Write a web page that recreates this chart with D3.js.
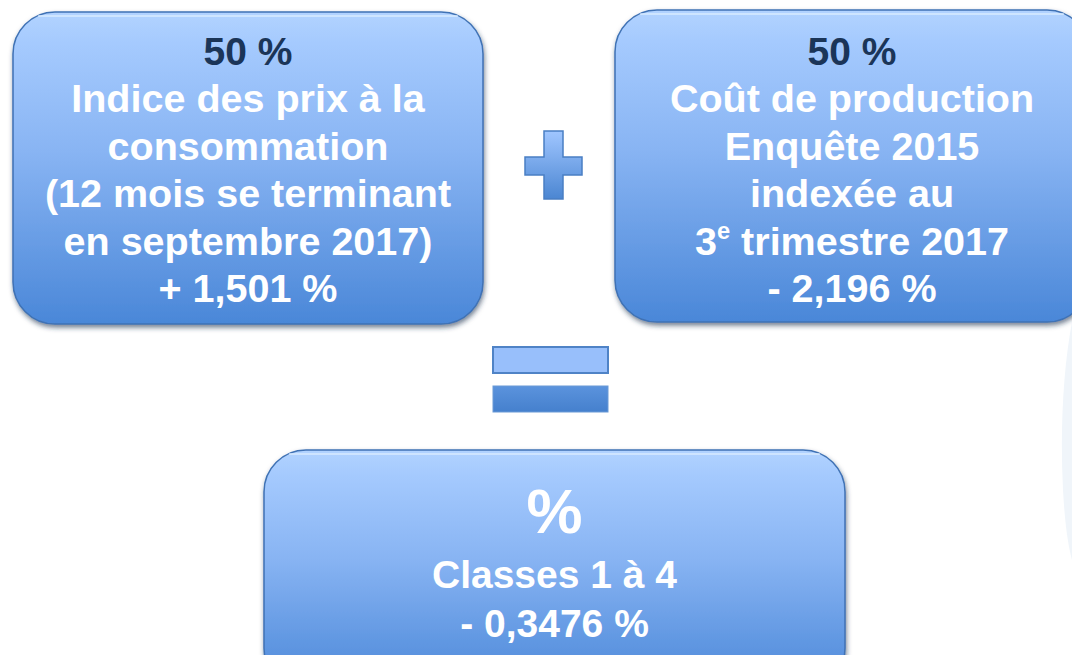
<!DOCTYPE html>
<html>
<head>
<meta charset="utf-8">
<script src="https://cdn.jsdelivr.net/npm/d3@7"></script>
<style>
  html, body { margin: 0; padding: 0; background: #fff; }
  svg { display: block; font-family: "Liberation Sans", Arial, sans-serif; font-weight: bold; }
</style>
</head>
<body>
<svg id="main" width="1072" height="655"></svg>
<script>
// texts of the three boxes
var leftHead = "50 %";
var leftLines = ["Indice des prix à la", "consommation", "(12 mois se terminant", "en septembre 2017)", "+ 1,501 %"];
var rightHead = "50 %";
var rightLines = ["Coût de production", "Enquête 2015", "indexée au", "3|e| trimestre 2017", "- 2,196 %"];
var resultHead = "%";
var resultLines = ["Classes 1 à 4", "- 0,3476 %"];

var svg = d3.select("svg#main");
var defs = svg.append("defs");

var grad = defs.append("linearGradient").attr("id", "boxGrad")
  .attr("x1", 0).attr("y1", 0).attr("x2", 0).attr("y2", 1);
grad.append("stop").attr("offset", "0%").attr("stop-color", "#b2d3ff");
grad.append("stop").attr("offset", "10%").attr("stop-color", "#a5cafe");
grad.append("stop").attr("offset", "45%").attr("stop-color", "#88b4f3");
grad.append("stop").attr("offset", "100%").attr("stop-color", "#4a87d8");

var symGrad = defs.append("linearGradient").attr("id", "symGrad")
  .attr("x1", 0).attr("y1", 0).attr("x2", 0).attr("y2", 1);
symGrad.append("stop").attr("offset", "0%").attr("stop-color", "#a0c6ff");
symGrad.append("stop").attr("offset", "100%").attr("stop-color", "#4b86d2");

var eqGrad = defs.append("linearGradient").attr("id", "eqGrad")
  .attr("x1", 0).attr("y1", 0).attr("x2", 0).attr("y2", 1);
eqGrad.append("stop").attr("offset", "0%").attr("stop-color", "#5b93dd");
eqGrad.append("stop").attr("offset", "100%").attr("stop-color", "#4580cd");

var shadow = defs.append("filter").attr("id", "shadow")
  .attr("x", "-10%").attr("y", "-10%").attr("width", "120%").attr("height", "125%");
shadow.append("feDropShadow").attr("dx", 1).attr("dy", 3).attr("stdDeviation", 2.5)
  .attr("flood-color", "#1d3550").attr("flood-opacity", 0.6);

// faint background shape on the right edge
svg.append("path")
  .attr("d", "M1072,322 C1063,370 1060,430 1063,490 C1065,525 1068,545 1072,560 Z")
  .attr("fill", "#f0f5fa");

function drawBox(x, y, w, h, r, head, lines, headSize, lineSize, step, headColor) {
  var g = svg.append("g");
  g.append("rect").attr("x", x).attr("y", y).attr("width", w).attr("height", h)
    .attr("rx", r).attr("ry", r)
    .attr("fill", "url(#boxGrad)")
    .attr("stroke", "#3f72b5").attr("stroke-width", 1.5)
    .attr("filter", "url(#shadow)");
  // soft top highlight
  g.append("path")
    .attr("d", "M" + (x + r * 0.6) + "," + (y + 4) + " H" + (x + w - r * 0.6))
    .attr("stroke", "#dcecff").attr("stroke-opacity", 0.7).attr("stroke-width", 2);

  var cx = x + w / 2;
  g.append("text").attr("text-anchor", "middle")
    .attr("x", cx).attr("y", head.y)
    .attr("font-size", headSize).attr("fill", headColor).text(head.text);

  lines.forEach(function(line, i) {
    var ts = g.append("text").attr("text-anchor", "middle")
      .attr("x", cx).attr("y", head.firstLine + i * step)
      .attr("font-size", lineSize).attr("fill", "#ffffff");
    var parts = line.split("|");
    if (parts.length === 3) {
      ts.append("tspan").text(parts[0]);
      ts.append("tspan").attr("font-size", lineSize * 0.6).attr("dy", -lineSize * 0.38).text(parts[1]);
      ts.append("tspan").attr("dy", lineSize * 0.38).text(" " + parts[2].trim());
    } else {
      ts.text(line);
    }
  });
}

drawBox(13, 12, 470, 312, 42, {text: leftHead, y: 65, firstLine: 112}, leftLines, 39, 39.5, 47.5, "#1b3558");
drawBox(615, 10, 474, 312, 42, {text: rightHead, y: 65, firstLine: 112}, rightLines, 39, 39.5, 47.5, "#1b3558");
drawBox(264, 450, 581, 240, 42, {text: resultHead, y: 533, firstLine: 588}, resultLines, 63, 39, 49, "#ffffff");

// plus sign
var plus = svg.append("g");
plus.append("path")
  .attr("d", "M544,131 H563 V157 H582 V175 H563 V199 H544 V175 H525 V157 H544 Z")
  .attr("fill", "url(#symGrad)").attr("stroke", "#4a7fc4").attr("stroke-width", 1.5);

// equals sign
var eq = svg.append("g");
eq.append("rect").attr("x", 493).attr("y", 347).attr("width", 115).attr("height", 26)
  .attr("fill", "#98bffb").attr("stroke", "#4f83c6").attr("stroke-width", 2);
eq.append("rect").attr("x", 493).attr("y", 386).attr("width", 115).attr("height", 26)
  .attr("fill", "url(#eqGrad)").attr("stroke", "#6a9ad6").attr("stroke-width", 1);
</script>
</body>
</html>
